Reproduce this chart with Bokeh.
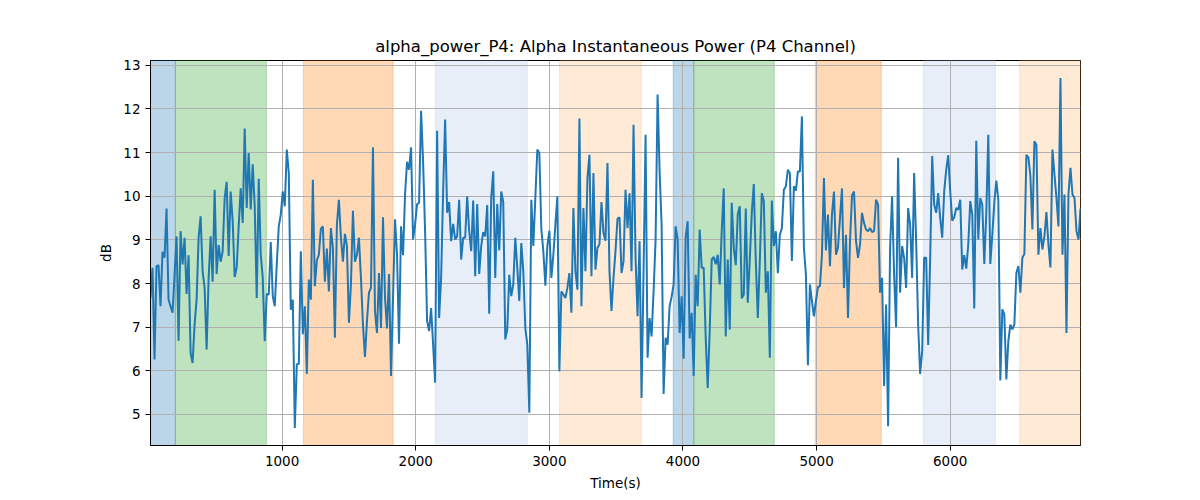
import numpy as np
from bokeh.plotting import figure
from bokeh.models import BoxAnnotation, Range1d, FixedTicker
from bokeh.embed import file_html
from bokeh.resources import INLINE

# alpha power (dB), one sample every 15 s
alpha_db = [
    7.67, 8.36, 6.26, 8.40, 8.42, 7.48, 8.73, 8.59, 9.72, 7.63, 7.48, 7.33, 8.20, 9.08, 6.69, 9.20, 8.44, 9.05, 7.76, 8.65,
    6.41, 6.18, 7.06, 7.63, 9.05, 9.54, 8.28, 7.90, 6.49, 8.13, 9.08, 8.04, 10.15, 8.22, 8.88, 8.50, 8.74, 9.96, 10.33, 8.63,
    10.11, 9.43, 8.15, 8.37, 9.31, 10.18, 9.39, 11.55, 9.73, 10.99, 9.70, 10.73,
    9.77, 7.67, 10.40, 8.66, 8.13, 6.68, 7.76, 7.75, 8.95, 7.71, 7.48, 8.45, 9.31, 9.58, 10.11, 9.77, 11.07, 10.53, 7.40, 7.63,
    4.69, 6.15, 6.16, 8.74, 6.84, 7.48, 5.93, 8.09, 7.63, 10.38, 7.94, 8.53, 8.66, 9.26, 9.31, 8.04, 8.80, 7.82, 9.27, 8.82,
    6.76, 9.35, 9.92, 9.05, 8.50, 9.14, 8.86, 7.10, 7.98, 9.67, 8.50, 8.66,
    9.05, 8.13, 7.06, 6.32, 7.14, 7.79, 7.90, 11.12, 7.37, 6.87, 8.24, 6.98, 9.52, 7.67, 6.97, 8.22, 5.88, 7.67, 9.47, 8.66,
    6.62, 9.31, 8.65, 10.04, 10.79, 10.61, 11.12, 9.01, 9.35, 9.82, 9.85, 11.96, 10.80, 9.20, 7.14, 6.91, 7.44, 6.60, 5.73, 11.50,
    7.21, 8.13, 10.11, 11.76, 9.62, 9.87, 8.97, 9.37, 9.01, 9.08, 9.92, 8.55,
    9.05, 9.05, 10.00, 9.20, 8.74, 9.90, 8.17, 9.82, 8.22, 8.86, 9.18, 9.08, 9.80, 7.31, 9.96, 10.57, 8.13, 9.82, 8.76, 10.11,
    9.87, 6.72, 6.95, 8.20, 7.71, 7.98, 9.05, 8.36, 7.60, 8.93, 8.28, 6.98, 6.60, 5.04, 9.92, 8.86, 9.96, 11.07, 10.99, 9.24,
    8.74, 7.95, 8.86, 9.21, 8.13, 8.66, 9.35, 10.00, 5.99, 7.82, 7.75, 7.67,
    7.90, 8.24, 7.33, 9.73, 8.28, 7.86, 11.78, 7.48, 9.73, 8.28, 10.42, 10.95, 8.17, 10.53, 8.32, 8.82, 8.90, 9.87, 9.16, 8.98,
    10.76, 8.28, 7.37, 8.13, 8.74, 9.49, 9.52, 8.24, 8.51, 10.15, 9.27, 10.07, 8.28, 11.64, 8.59, 7.25, 8.97, 5.38, 8.28, 11.41,
    6.30, 7.21, 6.79, 7.82, 9.00, 12.33, 10.57, 9.35, 5.47, 6.76, 6.60, 7.48,
    7.70, 7.98, 9.31, 9.01, 6.87, 7.71, 6.28, 9.05, 9.43, 6.74, 7.33, 5.88, 8.20, 7.48, 9.24, 8.36, 8.36, 6.76, 5.61, 6.91,
    8.55, 8.61, 8.44, 8.66, 7.98, 9.20, 10.18, 6.79, 8.55, 6.95, 9.85, 8.82, 8.42, 9.58, 9.77, 7.66, 7.75, 9.72, 7.56, 8.55,
    9.62, 10.28, 8.51, 7.21, 8.51, 10.07, 9.89, 7.79, 8.28, 6.30, 9.90, 8.86,
    9.20, 8.24, 9.12, 9.27, 10.15, 10.23, 10.61, 10.53, 8.52, 10.23, 10.13, 10.57, 10.57, 11.83, 8.82, 8.20, 6.13, 7.98, 7.60, 7.25,
    7.60, 7.92, 7.94, 8.66, 10.42, 8.76, 9.58, 8.40, 9.58, 10.11, 8.66, 8.82, 9.50, 10.18, 7.90, 9.12, 7.21, 8.97, 10.02, 10.11,
    8.98, 8.59, 8.89, 9.62, 9.39, 9.24, 9.20, 9.27, 9.18, 9.20, 9.92, 9.81,
    7.79, 8.13, 5.65, 7.52, 4.73, 8.82, 10.00, 8.20, 7.00, 10.88, 7.79, 8.86, 8.59, 7.90, 9.73, 9.35, 8.13, 10.53, 8.97, 7.06,
    5.93, 6.45, 8.59, 8.59, 6.59, 8.59, 10.92, 9.81, 9.62, 10.07, 9.50, 9.05, 10.11, 10.61, 10.94, 10.11, 9.44, 9.52, 9.73, 9.69,
    9.92, 8.32, 8.65, 8.34, 8.89, 9.89, 9.58, 7.43, 11.27, 9.01, 9.96, 9.81,
    8.45, 9.62, 11.41, 8.45, 9.12, 9.85, 10.36, 9.92, 5.78, 7.41, 7.29, 5.80, 6.68, 7.06, 6.95, 7.06, 8.24, 8.40, 7.79, 8.59,
    8.68, 10.95, 10.89, 10.46, 9.24, 11.26, 11.18, 8.66, 9.27, 8.78, 9.08, 9.64, 8.89, 8.37, 11.07, 10.50, 9.96, 9.31, 12.71, 8.66,
    10.04, 6.87, 10.05, 10.65, 10.04, 9.96, 9.20, 9.01, 9.72,
]
sample_step = 15
time_s = sample_step * np.arange(1, len(alpha_db) + 1)

# shaded segments (start, end in seconds) and their colour
seg_start = [15, 201, 1159, 2147, 3076, 3927, 4081, 4990, 5800, 6519]
seg_end = [201, 882, 1831, 2834, 3687, 4081, 4683, 5484, 6339, 6975]
seg_color = ["#1f77b4", "#2ca02c", "#ff7f0e", "#aec7e8", "#ffbb78",
             "#1f77b4", "#2ca02c", "#ff7f0e", "#aec7e8", "#ffbb78"]

x_ticks = [1000, 2000, 3000, 4000, 5000, 6000]
y_ticks = [5, 6, 7, 8, 9, 10, 11, 12, 13]

font = "DejaVu Sans"

p = figure(width=1200, height=500, output_backend="svg", toolbar_location=None,
           title="alpha_power_P4: Alpha Instantaneous Power (P4 Channel)",
           min_border_left=150, min_border_right=120, min_border_top=60, min_border_bottom=55)

lo = min(alpha_db)
hi = max(alpha_db)
pad = 0.05 * (hi - lo)
p.x_range = Range1d(time_s[0], time_s[-1])
p.y_range = Range1d(lo - pad, hi + pad)

for s, e, c in zip(seg_start, seg_end, seg_color):
    p.add_layout(BoxAnnotation(left=s, right=e, fill_color=c, fill_alpha=0.3,
                               line_color=c, line_alpha=0.3, level="image"))

p.line(time_s, alpha_db, line_color="#1f77b4", line_width=2)

p.title.align = "center"
p.title.text_font = font
p.title.text_font_size = "16.5px"
p.title.text_font_style = "normal"
p.title.text_color = "black"

p.xaxis.ticker = FixedTicker(ticks=x_ticks)
p.yaxis.ticker = FixedTicker(ticks=y_ticks)
p.xaxis.axis_label = "Time(s)"
p.yaxis.axis_label = "dB"

for ax in [p.xaxis, p.yaxis]:
    ax.axis_label_text_font = font
    ax.axis_label_text_font_size = "13.5px"
    ax.axis_label_text_font_style = "normal"
    ax.axis_label_text_color = "black"
    ax.major_label_text_font = font
    ax.major_label_text_font_size = "13.5px"
    ax.major_label_text_color = "black"
    ax.axis_line_color = "black"
    ax.major_tick_line_color = "black"
    ax.major_tick_out = 5
    ax.major_tick_in = 0
    ax.minor_tick_line_color = None
    ax.axis_label_standoff = 6

p.grid.grid_line_color = "#b0b0b0"
p.grid.grid_line_width = 1
p.outline_line_color = "black"
p.outline_line_alpha = 1
p.background_fill_color = "white"
p.border_fill_color = "white"

open("out.html", "w").write(file_html(p, INLINE))
